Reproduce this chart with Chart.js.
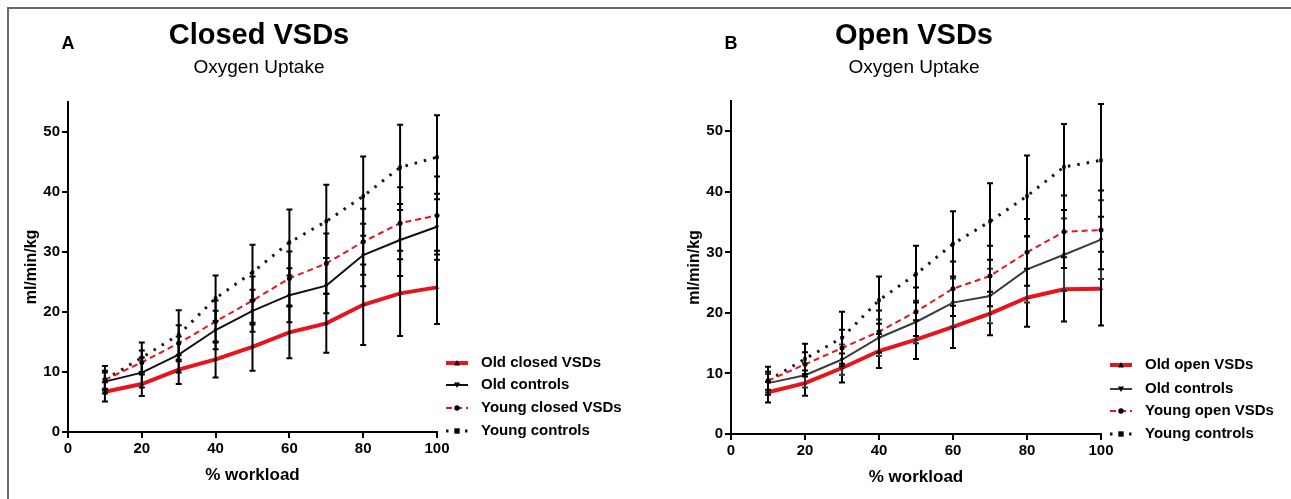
<!DOCTYPE html>
<html>
<head>
<meta charset="utf-8">
<script src="https://cdn.jsdelivr.net/npm/chart.js@4.4.0/dist/chart.umd.min.js"></script>
<style>
  html, body { margin: 0; padding: 0; background: #fff; }
  #wrap { position: relative; width: 1291px; height: 499px; overflow: hidden; }
  #frame { position: absolute; left: 7px; top: 7px; width: 1300px; height: 520px;
           border-left: 2px solid #6a6a6a; border-top: 2px solid #6a6a6a; }
  .panel { position: absolute; top: 0; height: 499px; }
</style>
</head>
<body>
<div id="wrap">
  <div id="frame"></div>
  <div class="panel" style="left:0;width:645px"><canvas id="chartA"></canvas></div>
  <div class="panel" style="left:645px;width:646px"><canvas id="chartB"></canvas></div>
</div>
<script>
// x values (% workload)
const workload = [10, 20, 30, 40, 50, 60, 70, 80, 90, 100];
const xTicks = [0, 20, 40, 60, 80, 100];
const yTicks = [0, 10, 20, 30, 40, 50];

// Panel A - closed VSDs (means and SD)
const oldClosedA   = [6.7, 8.0, 10.4, 12.1, 14.2, 16.6, 18.1, 21.2, 23.1, 24.1];
const oldClosedSdA = [1.6, 2.0, 2.4, 3.0, 4.0, 4.3, 4.9, 6.7, 7.1, 6.1];
const oldCtrlA     = [8.4, 9.9, 12.9, 17.0, 20.2, 22.8, 24.4, 29.5, 32.0, 34.2];
const oldCtrlSdA   = [1.5, 2.5, 3.0, 3.2, 3.5, 4.5, 4.6, 5.2, 6.0, 5.5];
const youngClosedA   = [8.7, 11.6, 14.8, 18.4, 21.9, 25.6, 28.1, 31.7, 34.8, 36.1];
const youngClosedSdA = [1.5, 2.0, 3.0, 3.5, 4.0, 4.5, 5.0, 5.5, 6.0, 6.5];
const youngCtrlA   = [8.7, 12.4, 16.2, 22.3, 26.6, 31.6, 35.1, 39.3, 44.1, 45.8];
const youngCtrlSdA = [2.3, 2.5, 4.1, 3.8, 4.6, 5.5, 6.1, 6.6, 7.1, 7.0];

// Panel B - open VSDs
const oldOpenB   = [6.9, 8.4, 10.9, 13.7, 15.6, 17.7, 19.9, 22.5, 23.9, 24.0];
const oldOpenSdB = [1.7, 2.1, 2.4, 2.8, 3.2, 3.5, 3.6, 4.8, 5.3, 6.1];
const oldCtrlB   = [8.4, 9.7, 12.3, 15.9, 18.5, 21.7, 22.8, 27.2, 29.6, 32.1];
const oldCtrlSdB = [1.5, 2.0, 2.5, 3.0, 3.5, 4.0, 4.5, 5.5, 6.0, 6.5];
const youngOpenB   = [8.8, 11.5, 14.2, 16.9, 20.2, 24.0, 26.1, 30.0, 33.4, 33.7];
const youngOpenSdB = [1.5, 2.0, 3.0, 3.5, 4.0, 4.5, 5.0, 5.5, 6.0, 6.5];
const youngCtrlB   = [8.8, 12.4, 15.9, 22.1, 26.4, 31.4, 35.1, 39.3, 44.1, 45.2];
const youngCtrlSdB = [2.3, 2.5, 4.3, 3.9, 4.7, 5.4, 6.3, 6.7, 7.1, 9.3];

const RED = '#e8141c';
const FONT = '"Liberation Sans", Arial, Helvetica, sans-serif';

function pts(vals) {
  return workload.map((x, i) => ({x: x, y: vals[i]}));
}

function drawMarker(ctx, style, x, y, r, color) {
  ctx.save();
  ctx.fillStyle = color;
  ctx.setLineDash([]);
  ctx.beginPath();
  if (style === 'triangle') {
    ctx.moveTo(x, y - r); ctx.lineTo(x + r, y + r * 0.8); ctx.lineTo(x - r, y + r * 0.8);
  } else if (style === 'triangleDown') {
    ctx.moveTo(x, y + r); ctx.lineTo(x + r, y - r * 0.8); ctx.lineTo(x - r, y - r * 0.8);
  } else if (style === 'rect') {
    ctx.rect(x - r * 0.9, y - r * 0.9, r * 1.8, r * 1.8);
  } else {
    ctx.arc(x, y, r * 0.9, 0, Math.PI * 2);
  }
  ctx.closePath();
  ctx.fill();
  ctx.restore();
}

// vertical SD bars, drawn through the chart's own scales
const errorBars = {
  id: 'errorBars',
  afterDatasetsDraw(chart) {
    const {ctx, scales: {x, y}} = chart;
    ctx.save();
    ctx.lineWidth = 2;
    chart.data.datasets.forEach(ds => {
      if (!ds.sd) return;
      ctx.strokeStyle = ds.errorColor || '#000';
      ds.data.forEach((p, j) => {
        const px = x.getPixelForValue(p.x);
        const top = y.getPixelForValue(p.y + ds.sd[j]);
        const bot = y.getPixelForValue(p.y - ds.sd[j]);
        ctx.beginPath();
        ctx.moveTo(px, top); ctx.lineTo(px, bot);
        ctx.moveTo(px - 3, top); ctx.lineTo(px + 3, top);
        ctx.moveTo(px - 3, bot); ctx.lineTo(px + 3, bot);
        ctx.stroke();
      });
    });
    ctx.restore();
  }
};

// panel letter, title, subtitle and legend
const panelDecor = {
  id: 'panelDecor',
  afterDraw(chart, args, o) {
    const ctx = chart.ctx;
    ctx.save();
    ctx.fillStyle = '#000';
    ctx.textBaseline = 'middle';
    ctx.textAlign = 'center';
    ctx.font = 'bold 18px ' + FONT;
    ctx.fillText(o.letter, o.letterX, o.letterY);
    ctx.font = 'bold 29px ' + FONT;
    ctx.fillText(o.title, o.titleX, o.titleY);
    ctx.font = '19px ' + FONT;
    ctx.fillText(o.subtitle, o.titleX, o.subtitleY);

    ctx.textAlign = 'left';
    ctx.font = 'bold 15px ' + FONT;
    chart.data.datasets.forEach((ds, i) => {
      const yy = o.legendY[i];
      ctx.save();
      ctx.strokeStyle = ds.borderColor;
      ctx.lineWidth = ds.borderWidth;
      ctx.setLineDash(ds.borderDash || []);
      ctx.beginPath();
      ctx.moveTo(o.legendX, yy);
      ctx.lineTo(o.legendX + 22, yy);
      ctx.stroke();
      ctx.restore();
      drawMarker(ctx, ds.marker, o.legendX + 11, yy, 3, '#000');
      ctx.fillStyle = '#000';
      ctx.fillText(ds.label, o.legendX + 35, yy);
    });
    ctx.restore();
  }
};

function makeDataset(label, vals, sd, color, width, dash, marker, errColor) {
  return {
    label: label,
    data: pts(vals),
    sd: sd,
    marker: marker,
    errorColor: errColor || '#000',
    borderColor: color,
    borderWidth: width,
    borderDash: dash,
    tension: 0,
    fill: false,
    pointStyle: marker === 'triangleDown' ? 'triangle' : marker,
    rotation: marker === 'triangleDown' ? 180 : 0,
    pointRadius: 2.5,
    pointBackgroundColor: '#000',
    pointBorderColor: '#000',
    pointBorderWidth: 0,
    clip: false
  };
}

function makeChart(id, datasets, cfg) {
  return new Chart(document.getElementById(id), {
    type: 'line',
    data: {datasets: datasets},
    plugins: [errorBars, panelDecor],
    options: {
      responsive: true,
      maintainAspectRatio: false,
      animation: false,
      layout: {padding: {left: cfg.padLeft, right: cfg.padRight, top: cfg.padTop, bottom: 0}},
      plugins: {
        legend: {display: false},
        tooltip: {enabled: false},
        panelDecor: cfg.decor
      },
      scales: {
        x: {
          type: 'linear', min: 0, max: 100,
          afterFit(s) { s.height = cfg.xHeight; },
          afterBuildTicks(s) { s.ticks = xTicks.map(v => ({value: v})); },
          grid: {drawOnChartArea: false, drawTicks: true, tickLength: 6, color: '#000', lineWidth: 2},
          border: {display: true, color: '#000', width: 2},
          ticks: {color: '#000', padding: 2, maxRotation: 0, font: {family: FONT, size: 15, weight: 'bold'}},
          title: {display: true, text: '% workload', color: '#000',
                  font: {family: FONT, size: 17, weight: 'bold'}, padding: {top: 0, bottom: cfg.xTitlePad}}
        },
        y: {
          type: 'linear', min: 0, max: 55,
          afterFit(s) { s.width = 68; },
          afterBuildTicks(s) { s.ticks = yTicks.map(v => ({value: v})); },
          grid: {drawOnChartArea: false, drawTicks: true, tickLength: 6, color: '#000', lineWidth: 2},
          border: {display: true, color: '#000', width: 2},
          ticks: {color: '#000', padding: 2, font: {family: FONT, size: 15, weight: 'bold'}},
          title: {display: true, text: 'ml/min/kg', color: '#000',
                  font: {family: FONT, size: 16, weight: 'bold'}, padding: {top: 22, bottom: 0}}
        }
      }
    }
  });
}

makeChart('chartA', [
  makeDataset('Old closed VSDs', oldClosedA, oldClosedSdA, RED, 4, [], 'triangle'),
  makeDataset('Old controls', oldCtrlA, oldCtrlSdA, '#111', 2, [], 'triangleDown'),
  makeDataset('Young closed VSDs', youngClosedA, youngClosedSdA, RED, 2, [6, 4], 'circle'),
  makeDataset('Young controls', youngCtrlA, youngCtrlSdA, '#111', 3, [2.5, 7], 'rect')
], {
  padLeft: 0, padRight: 208, padTop: 102, xHeight: 67, xTitlePad: 13,
  decor: {letter: 'A', letterX: 68, letterY: 44, title: 'Closed VSDs', titleX: 259, titleY: 36,
          subtitle: 'Oxygen Uptake', subtitleY: 68, legendX: 446, legendY: [363, 385, 408, 431]}
});

makeChart('chartB', [
  makeDataset('Old open VSDs', oldOpenB, oldOpenSdB, RED, 4, [], 'triangle'),
  makeDataset('Old controls', oldCtrlB, oldCtrlSdB, '#3c3c3c', 2, [], 'triangleDown', '#333'),
  makeDataset('Young open VSDs', youngOpenB, youngOpenSdB, RED, 2, [6, 4], 'circle'),
  makeDataset('Young controls', youngCtrlB, youngCtrlSdB, '#111', 3, [2.5, 7], 'rect')
], {
  padLeft: 18, padRight: 190, padTop: 101, xHeight: 65, xTitlePad: 11,
  decor: {letter: 'B', letterX: 86, letterY: 44, title: 'Open VSDs', titleX: 269, titleY: 36,
          subtitle: 'Oxygen Uptake', subtitleY: 68, legendX: 465, legendY: [365, 389, 411, 434]}
});
</script>
</body>
</html>
